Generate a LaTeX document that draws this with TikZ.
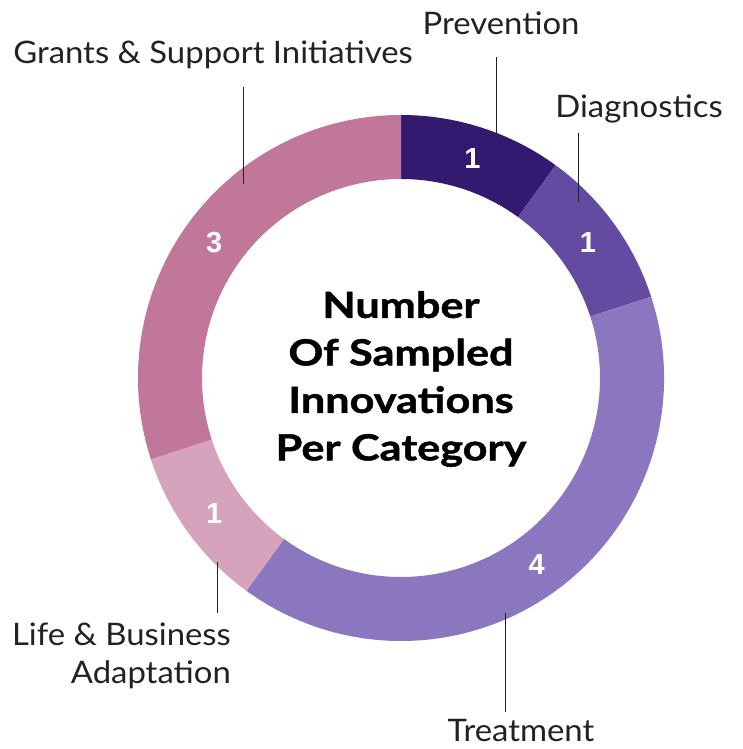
\documentclass[tikz,border=0pt]{standalone}
\usepackage{fontspec}
\setmainfont{Lato}[FakeStretch=1.06]
\newfontfamily\titlefont{Lato}[FakeStretch=1.2, BoldFeatures={FakeBold=1.3}]
\newfontfamily\numfont{Liberation Sans}
\usetikzlibrary{calc}
\definecolor{cPrev}{HTML}{331A70}
\definecolor{cDiag}{HTML}{654AA1}
\definecolor{cTreat}{HTML}{8A77C0}
\definecolor{cLife}{HTML}{D5A3BB}
\definecolor{cGrant}{HTML}{C17799}
\definecolor{cText}{HTML}{222222}
\newcommand{\ringseg}[3]{%
  \fill[#1] ($(C)+(#2:263pt)$) arc[start angle=#2,end angle=#3,radius=263pt]
    -- ($(C)+(#3:199pt)$) arc[start angle=#3,end angle=#2,radius=199pt] -- cycle;}
\begin{document}
\begin{tikzpicture}[x=1pt,y=1pt,
  lab/.style={font=\fontsize{31}{36}\selectfont, text=cText, inner sep=0pt},
  num/.style={font=\numfont\bfseries\fontsize{29}{29}\selectfont, text=white, inner sep=0pt},
  leader/.style={draw=cText, line width=1pt},
  title/.style={font=\titlefont\bfseries\fontsize{36}{47.5}\selectfont, align=center, inner sep=0pt}]
\useasboundingbox (0,0) rectangle (742,749);
\coordinate (C) at (401,371);
\ringseg{cPrev}{90}{54}
\ringseg{cDiag}{54}{18}
\ringseg{cTreat}{18}{-126}
\ringseg{cLife}{-126}{-162}
\ringseg{cGrant}{198}{90}
% numbers
\node[num] (nPrev) at ($(C)+(72:231pt)$) {1};
\node[num] (nDiag) at ($(C)+(36:231pt)$) {1};
\node[num] (nTreat) at ($(C)+(-54:231pt)$) {4};
\node[num] (nLife) at ($(C)+(-144:231pt)$) {1};
\node[num] (nGrant) at ($(C)+(144:231pt)$) {3};
% title
\node[title] (title) at (401,370) {Number\\Of Sampled\\Innovations\\Per Category};
% labels
\node[lab, anchor=base] (lPrev) at (501,714) {Prevention};
\node[lab, anchor=base] (lDiag) at (639,631) {Diagnostics};
\node[lab, anchor=base] (lGrant) at (213,685) {Grants \& Support Initiatives};
\node[lab, anchor=base east] (lLife1) at (231,103) {Life \& Business};
\node[lab, anchor=base east] (lLife2) at (231,65) {Adaptation};
\node[lab, anchor=base] (lTreat) at (521,7) {Treatment};
% leader lines
\coordinate (pT) at (496,692); \coordinate (pB) at (496,609);
\draw[leader] (pT) -- (pB);
\coordinate (dT) at (578,616); \coordinate (dB) at (578,547);
\draw[leader] (dT) -- (dB);
\coordinate (gT) at (243,662); \coordinate (gB) at (243,565);
\draw[leader] (gT) -- (gB);
\coordinate (lT) at (217,187); \coordinate (lB) at (217,136);
\draw[leader] (lT) -- (lB);
\coordinate (tT) at (505,136); \coordinate (tB) at (505,37);
\draw[leader] (tT) -- (tB);
\end{tikzpicture}
\end{document}
